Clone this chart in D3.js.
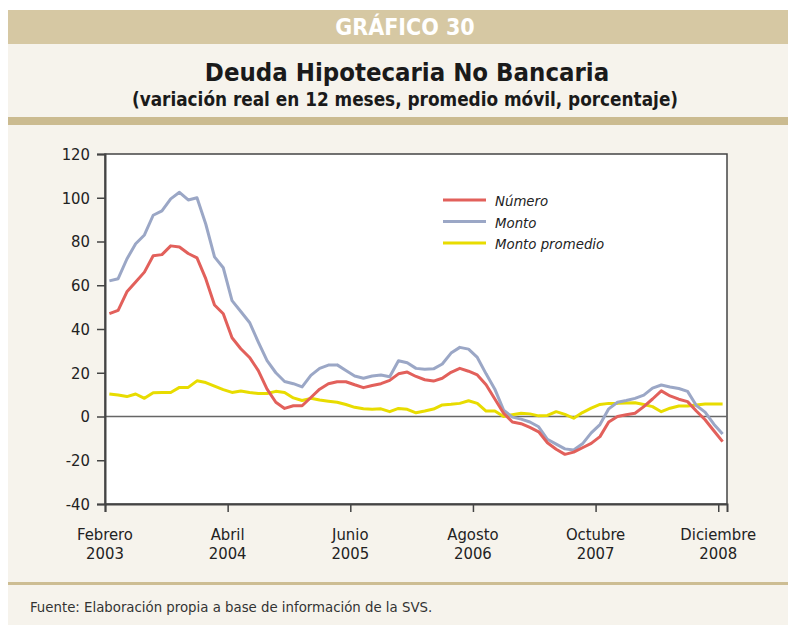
<!DOCTYPE html>
<html>
<head>
<meta charset="utf-8">
<script src="https://cdn.jsdelivr.net/npm/d3@7"></script>
<style>
  html, body { margin: 0; padding: 0; background: #ffffff; }
  svg { display: block; }
  .cond { font-family: "Liberation Sans Narrow", "DejaVu Sans Condensed", "Arial Narrow", sans-serif; }
</style>
</head>
<body>
<svg id="chart" width="788" height="625"></svg>
<script>
// ---------- data ----------
const tickMonthIndex = [0, 14, 28, 42, 56, 70];
const tickLabelTop = ["Febrero","Abril","Junio","Agosto","Octubre","Diciembre"];
const tickLabelBottom = ["2003","2004","2005","2006","2007","2008"];
const yTicks = [-40, -20, 0, 20, 40, 60, 80, 100, 120];
const seriesNames = ["Número", "Monto", "Monto promedio"];

const numero = [47,48.5,57,61.5,66,73.5,74,78,77.5,74.5,72.5,63,51,47,36,31,27,21,12.5,6.5,
  3.7,4.9,4.9,8.7,12.5,15,15.9,15.9,14.5,13.2,14.2,15,16.5,19.5,20.3,18.3,16.8,16.2,17.5,20.2,
  22,20.7,19,14.5,8,1.5,-2.5,-3.3,-5,-7,-12,-15,-17.3,-16.3,-14.3,-12.3,-9.2,-2.5,0,0.8,
  1.5,4.5,8,11.7,9.4,7.9,6.8,2.5,-1.5,-6.5,-11.5];
const monto = [62,63,72,79,83,92,94,99.5,102.5,99,100,88,73,68,53,48,43,34,25.5,20,
  16,15,13.5,18.8,22,23.5,23.6,21,18.5,17.5,18.5,19,18.2,25.5,24.6,22,21.6,21.8,24,29,
  31.6,30.8,27,19.5,12.5,2.9,-0.3,-1.2,-2.5,-4.7,-10.4,-12.6,-14.8,-15.3,-12.5,-7.5,-3.7,3.5,6.5,7.3,
  8.3,9.8,13,14.4,13.5,12.8,11.5,5,2,-3.5,-8];
const montoPromedio = [10.3,9.8,9.1,10.3,8.3,10.9,11,11,13.3,13.3,16.3,15.5,13.9,12.3,11,11.7,11,10.5,10.5,11.5,
  11,8.5,7.3,8.3,7.5,7,6.5,5.5,4.2,3.5,3.3,3.5,2.2,3.7,3.3,1.7,2.5,3.4,5.3,5.6,
  6,7.2,6,2.5,2.5,0,0.8,1.5,1.2,0.3,0.5,2.2,1,-0.8,1.8,3.8,5.5,6,6,6.2,
  6.3,5.5,4.5,2.2,3.8,4.8,4.8,5.3,5.7,5.7,5.7];

const seriesColors = ["#e2605b", "#9ba7c6", "#e8dc00"];
const seriesData = [numero, monto, montoPromedio];

// ---------- layout ----------
const W = 788, H = 625;
const plot = { left: 105, right: 727, top: 154, bottom: 504 };
const svg = d3.select("#chart");

// backgrounds
svg.append("rect").attr("x", 8).attr("y", 10).attr("width", W - 8).attr("height", H - 10).attr("fill", "#f6f3ec");
svg.append("rect").attr("x", 8).attr("y", 10).attr("width", W - 8).attr("height", 34).attr("fill", "#d6c8a3");
svg.append("rect").attr("x", 8).attr("y", 117).attr("width", W - 8).attr("height", 8).attr("fill", "#cbbb90");
svg.append("rect").attr("x", 8).attr("y", 582).attr("width", W - 8).attr("height", 3).attr("fill", "#cdbd93");

// header texts
svg.append("text").attr("class", "cond").attr("x", 405).attr("y", 35)
  .attr("text-anchor", "middle").attr("fill", "#ffffff").attr("font-weight", "bold")
  .attr("font-size", 23).text("GRÁFICO 30");
svg.append("text").attr("class", "cond").attr("x", 407).attr("y", 81)
  .attr("text-anchor", "middle").attr("fill", "#1a1a1a").attr("font-weight", "bold")
  .attr("font-size", 25.5).text("Deuda Hipotecaria No Bancaria");
svg.append("text").attr("class", "cond").attr("x", 405).attr("y", 106)
  .attr("text-anchor", "middle").attr("fill", "#1a1a1a").attr("font-weight", "bold")
  .attr("font-size", 18.8).text("(variación real en 12 meses, promedio móvil, porcentaje)");

// footer
svg.append("text").attr("class", "cond").attr("x", 30).attr("y", 612)
  .attr("fill", "#333").attr("font-size", 14.8)
  .text("Fuente: Elaboración propia a base de información de la SVS.");

// scales
const x = d3.scaleLinear().domain([0, 71]).range([plot.left, plot.right]);
const y = d3.scaleLinear().domain([-40, 120]).range([plot.bottom, plot.top]);

// plot area
svg.append("rect").attr("x", plot.left).attr("y", plot.top)
  .attr("width", plot.right - plot.left).attr("height", plot.bottom - plot.top)
  .attr("fill", "#ffffff").attr("stroke", "#444").attr("stroke-width", 1.5);

// zero line
svg.append("line").attr("x1", plot.left).attr("x2", plot.right)
  .attr("y1", y(0)).attr("y2", y(0)).attr("stroke", "#666").attr("stroke-width", 1.3);

// lines
const line = d3.line().x((d, i) => x(i + 0.5)).y(d => y(d));
[2, 1, 0].forEach(k => {
  svg.append("path").datum(seriesData[k]).attr("d", line)
    .attr("fill", "none").attr("stroke", seriesColors[k]).attr("stroke-width", 3)
    .attr("stroke-linejoin", "round");
});

// y axis
const yAxis = d3.axisLeft(y).tickValues(yTicks).tickSize(8).tickPadding(7).tickFormat(d => String(d));
const gy = svg.append("g").attr("transform", `translate(${plot.left},0)`).call(yAxis);
gy.select(".domain").attr("stroke", "#444").attr("stroke-width", 2);
gy.selectAll(".tick line").attr("stroke", "#444").attr("stroke-width", 1.5);
gy.selectAll(".tick text").attr("class", "cond").attr("font-size", 16.5).attr("fill", "#222");

// x axis
const xAxis = d3.axisBottom(x).tickValues(tickMonthIndex).tickSize(8).tickFormat("");
const gx = svg.append("g").attr("transform", `translate(0,${plot.bottom})`).call(xAxis);
gx.select(".domain").attr("stroke", "#444").attr("stroke-width", 2);
gx.selectAll(".tick line").attr("stroke", "#444").attr("stroke-width", 1.5);
tickMonthIndex.forEach((m, i) => {
  const t = svg.append("text").attr("class", "cond").attr("x", x(m)).attr("y", 540)
    .attr("text-anchor", "middle").attr("font-size", 16.5).attr("fill", "#222");
  t.append("tspan").attr("x", x(m)).attr("dy", 0).text(tickLabelTop[i]);
  t.append("tspan").attr("x", x(m)).attr("dy", 19).text(tickLabelBottom[i]);
});

// legend
const legend = svg.append("g").attr("transform", "translate(443,200)");
seriesNames.forEach((n, i) => {
  legend.append("line").attr("x1", 0).attr("x2", 43).attr("y1", i * 21.5).attr("y2", i * 21.5)
    .attr("stroke", seriesColors[i]).attr("stroke-width", 3);
  legend.append("text").attr("class", "cond").attr("x", 52).attr("y", i * 21.5 + 6)
    .attr("font-style", "italic").attr("font-size", 14.8).attr("fill", "#222").text(n);
});
</script>
</body>
</html>
